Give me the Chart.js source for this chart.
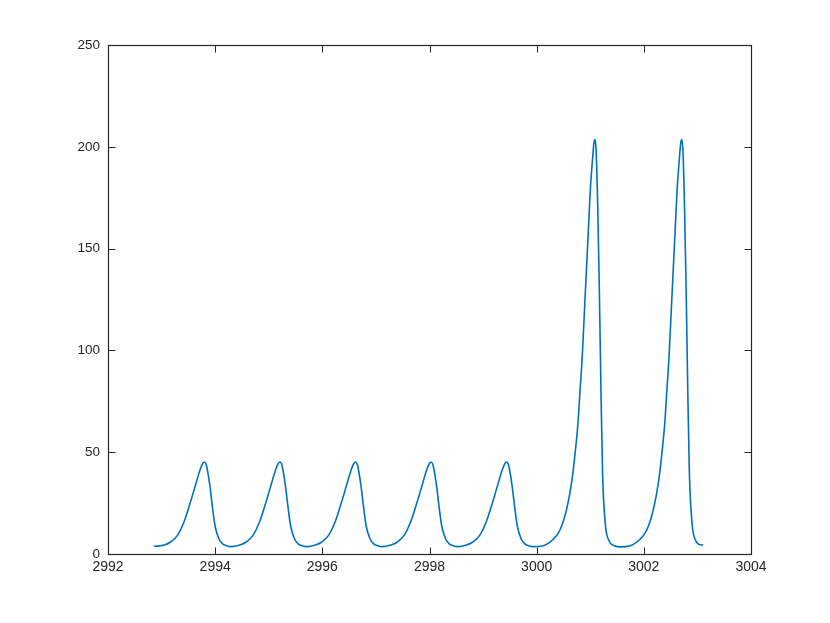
<!DOCTYPE html>
<html>
<head>
<meta charset="utf-8">
<script src="https://cdn.jsdelivr.net/npm/chart.js@4/dist/chart.umd.min.js"></script>
<style>
  html, body { margin: 0; padding: 0; background: #ffffff; }
  #wrap { width: 830px; height: 623px; position: relative; }
</style>
</head>
<body>
<div id="wrap"><canvas id="c" width="830" height="623"></canvas></div>
<script>
// x positions
const xValues = [
  2992.86, 2992.96, 2993.05, 2993.17, 2993.30, 2993.42, 2993.54, 2993.64, 2993.72, 2993.77, 2993.80, 2993.83, 2993.85, 2993.90, 2993.95, 2994.00, 2994.07, 2994.14, 2994.20, 2994.30,
  2994.46, 2994.58, 2994.71, 2994.83, 2994.95, 2995.05, 2995.13, 2995.18, 2995.21, 2995.24, 2995.26, 2995.31, 2995.36, 2995.41, 2995.48, 2995.55, 2995.61, 2995.71,
  2995.87, 2995.99, 2996.12, 2996.24, 2996.36, 2996.46, 2996.54, 2996.59, 2996.62, 2996.65, 2996.67, 2996.72, 2996.77, 2996.82, 2996.89, 2996.96, 2997.02, 2997.12,
  2997.28, 2997.40, 2997.53, 2997.65, 2997.77, 2997.87, 2997.95, 2998.00, 2998.03, 2998.06, 2998.08, 2998.13, 2998.18, 2998.23, 2998.30, 2998.37, 2998.43, 2998.53,
  2998.69, 2998.81, 2998.94, 2999.06, 2999.18, 2999.28, 2999.36, 2999.41, 2999.44, 2999.47, 2999.49, 2999.54, 2999.59, 2999.64, 2999.71, 2999.78, 2999.84, 2999.94,
  3000.08, 3000.20, 3000.30, 3000.40, 3000.47, 3000.53, 3000.58, 3000.63, 3000.67, 3000.71, 3000.77, 3000.81, 3000.85, 3000.88, 3000.91, 3000.94, 3000.97, 3001.00, 3001.04, 3001.07, 3001.09, 3001.11, 3001.14, 3001.17, 3001.20, 3001.23, 3001.28, 3001.35, 3001.44, 3001.57,
  3001.73, 3001.82, 3001.92, 3002.02, 3002.09, 3002.15, 3002.20, 3002.25, 3002.29, 3002.33, 3002.39, 3002.43, 3002.47, 3002.50, 3002.53, 3002.56, 3002.59, 3002.62, 3002.66, 3002.69, 3002.71, 3002.73, 3002.76, 3002.79, 3002.82, 3002.85, 3002.90, 3002.97, 3003.06, 3003.11
];
// y values
const yValues = [
  3.8, 4.0, 4.4, 5.9, 9.3, 15.8, 25.6, 34.5, 41.5, 44.6, 45.2, 44.2, 42.0, 33.8, 23.0, 13.5, 7.5, 5.0, 4.2, 3.6,
  4.4, 5.9, 9.3, 15.8, 25.6, 34.5, 41.5, 44.6, 45.2, 44.2, 42.0, 33.8, 23.0, 13.5, 7.5, 5.0, 4.2, 3.6,
  4.4, 5.9, 9.3, 15.8, 25.6, 34.5, 41.5, 44.6, 45.2, 44.2, 42.0, 33.8, 23.0, 13.5, 7.5, 5.0, 4.2, 3.6,
  4.4, 5.9, 9.3, 15.8, 25.6, 34.5, 41.5, 44.6, 45.2, 44.2, 42.0, 33.8, 23.0, 13.5, 7.5, 5.0, 4.2, 3.6,
  4.4, 5.9, 9.3, 15.8, 25.6, 34.5, 41.5, 44.6, 45.2, 44.2, 42.0, 33.8, 23.0, 13.5, 7.5, 5.0, 4.2, 3.6,
  3.8, 5.0, 7.0, 10.1, 14.0, 19.0, 24.5, 31.5, 38.5, 47.7, 64.0, 80.4, 96.7, 113.0, 129.4, 145.7, 162.0, 178.4, 193.0, 202.0, 203.5, 198.0, 170.0, 129.4, 80.4, 39.6, 15.0, 6.5, 4.2, 3.5,
  3.9, 5.0, 7.0, 10.1, 14.0, 19.0, 24.5, 31.5, 38.5, 47.7, 64.0, 80.4, 96.7, 113.0, 129.4, 145.7, 162.0, 178.4, 193.0, 202.0, 203.5, 198.0, 170.0, 129.4, 80.4, 39.6, 15.0, 6.5, 4.5, 4.4
];
const xTicks = [2992, 2994, 2996, 2998, 3000, 3002, 3004];
const yTicks = [0, 50, 100, 150, 200, 250];

const axisColor = '#262626';
const points = xValues.map((x, i) => ({ x: x, y: yValues[i] }));

const boxPlugin = {
  id: 'matlabBox',
  afterDraw(chart) {
    const ctx = chart.ctx;
    const a = chart.chartArea;
    const xs = chart.scales.x, ys = chart.scales.y;
    const L = Math.round(a.left) + 0.5, R = Math.round(a.right) + 0.5;
    const T = Math.round(a.top) + 0.5, B = Math.round(a.bottom) + 0.5;
    const tl = 7;
    ctx.save();
    ctx.strokeStyle = axisColor;
    ctx.lineWidth = 1;
    ctx.beginPath();
    xTicks.forEach(v => {
      const px = Math.round(xs.getPixelForValue(v)) + 0.5;
      ctx.moveTo(px, B); ctx.lineTo(px, B - tl);
      ctx.moveTo(px, T); ctx.lineTo(px, T + tl);
    });
    yTicks.forEach(v => {
      const py = Math.round(ys.getPixelForValue(v)) + 0.5;
      ctx.moveTo(L, py); ctx.lineTo(L + tl, py);
      ctx.moveTo(R, py); ctx.lineTo(R - tl, py);
    });
    ctx.stroke();
    ctx.lineWidth = 1.2;
    ctx.strokeRect(L, T, R - L, B - T);
    ctx.restore();
  }
};

new Chart(document.getElementById('c'), {
  type: 'line',
  data: {
    datasets: [{
      data: points,
      borderColor: '#0072BD',
      borderWidth: 1.6,
      pointRadius: 0,
      fill: false,
      cubicInterpolationMode: 'monotone'
    }]
  },
  options: {
    responsive: false,
    animation: false,
    devicePixelRatio: 1,
    layout: { padding: { left: 0, top: 45, right: 79, bottom: 0 } },
    plugins: { legend: { display: false }, tooltip: { enabled: false } },
    scales: {
      x: {
        type: 'linear',
        min: 2992, max: 3004,
        afterBuildTicks: s => { s.ticks = xTicks.map(v => ({ value: v })); },
        afterFit: s => { s.height = 69; },
        grid: { display: false, drawTicks: false },
        border: { display: false },
        ticks: { color: axisColor, font: { family: 'Liberation Sans, Arial, sans-serif', size: 14 }, padding: 5, maxRotation: 0, callback: v => String(v) }
      },
      y: {
        type: 'linear',
        min: 0, max: 250,
        afterBuildTicks: s => { s.ticks = yTicks.map(v => ({ value: v })); },
        afterFit: s => { s.width = 108; },
        grid: { display: false, drawTicks: false },
        border: { display: false },
        ticks: { color: axisColor, font: { family: 'Liberation Sans, Arial, sans-serif', size: 13.5 }, padding: 8, callback: v => String(v) }
      }
    }
  },
  plugins: [boxPlugin]
});
</script>
</body>
</html>
